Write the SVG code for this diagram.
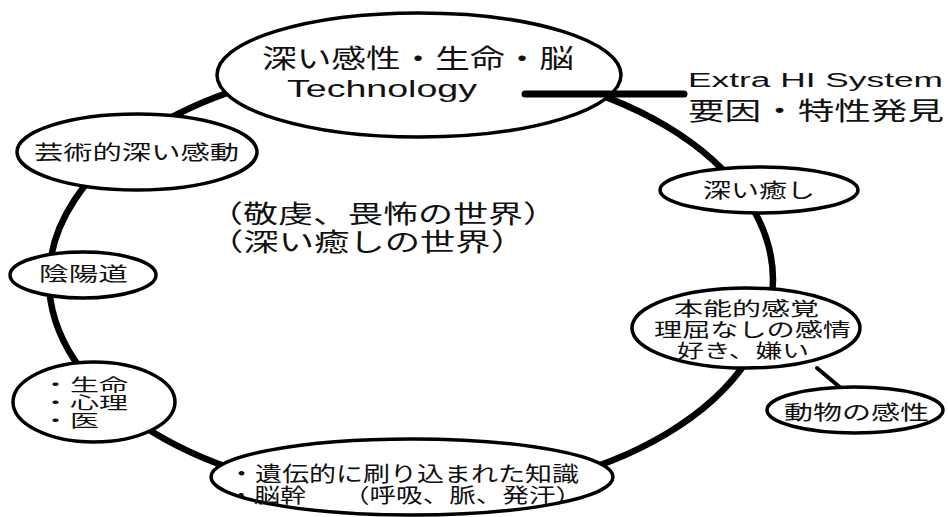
<svg xmlns="http://www.w3.org/2000/svg" width="948" height="517" viewBox="0 0 948 517">
<style>
.n{fill:#fff;stroke:#000;stroke-width:3.5}
.t{font-family:"Noto Sans CJK JP","Noto Sans",sans-serif;fill:#111}
.e{font-family:"Liberation Sans",Arial,sans-serif;fill:#111}
.c{fill:none;stroke:#000;stroke-linecap:round}
</style>
<rect width="948" height="517" fill="#fff"/>
<g id="connectors">
<ellipse class="c" cx="411" cy="280" rx="362" ry="217" stroke-width="6.5"/>
<line class="c" x1="817" y1="368" x2="842" y2="389" stroke-width="4"/>
</g>
<g id="center-label">
<text class="t" x="208" y="223" font-size="25" textLength="350" lengthAdjust="spacingAndGlyphs">（敬虔、畏怖の世界）</text>
<text class="t" x="208" y="251" font-size="25" textLength="318" lengthAdjust="spacingAndGlyphs">（深い癒しの世界）</text>
</g>
<g id="extra-hi">
<text class="e" x="688" y="87" font-size="20" textLength="255" lengthAdjust="spacingAndGlyphs">Extra HI System</text>
<text class="t" x="688" y="120" font-size="25" textLength="256" lengthAdjust="spacingAndGlyphs">要因・特性発見</text>
</g>
<g id="node-top">
<ellipse class="n" cx="419" cy="75" rx="202" ry="62" stroke-width="7"/>
<text class="t" x="262" y="68" font-size="26" textLength="312" lengthAdjust="spacingAndGlyphs">深い感性・生命・脳</text>
<text class="e" x="287" y="97" font-size="24" textLength="190" lengthAdjust="spacingAndGlyphs">Technology</text>
</g>
<g id="connector-extra">
<line class="c" x1="525" y1="94" x2="684" y2="94" stroke-width="7"/>
</g>
<g id="node-art">
<ellipse class="n" cx="137" cy="152" rx="120" ry="38"/>
<text class="t" x="34" y="160" font-size="20" textLength="205" lengthAdjust="spacingAndGlyphs">芸術的深い感動</text>
</g>
<g id="node-onmyodo">
<ellipse class="n" cx="83" cy="275" rx="73" ry="23"/>
<text class="t" x="39" y="281" font-size="19" textLength="89" lengthAdjust="spacingAndGlyphs">陰陽道</text>
</g>
<g id="node-life">
<ellipse class="n" cx="94" cy="402" rx="81" ry="40"/>
<text class="t" x="41" y="391" font-size="16.5" textLength="87" lengthAdjust="spacingAndGlyphs">・生命</text>
<text class="t" x="41" y="409" font-size="16.5" textLength="87" lengthAdjust="spacingAndGlyphs">・心理</text>
<text class="t" x="41" y="427" font-size="16.5" textLength="58" lengthAdjust="spacingAndGlyphs">・医</text>
</g>
<g id="node-bottom">
<ellipse class="n" cx="412" cy="477" rx="201" ry="38" stroke-width="4"/>
<text class="t" x="228" y="481" font-size="21" textLength="351" lengthAdjust="spacingAndGlyphs">・遺伝的に刷り込まれた知識</text>
<text class="t" x="228" y="503" font-size="20" textLength="78" lengthAdjust="spacingAndGlyphs">・脳幹</text>
<text class="t" x="343" y="503" font-size="20" textLength="239" lengthAdjust="spacingAndGlyphs">（呼吸、脈、発汗）</text>
</g>
<g id="node-healing">
<ellipse class="n" cx="759" cy="190" rx="99" ry="23"/>
<text class="t" x="703" y="198" font-size="20" textLength="112" lengthAdjust="spacingAndGlyphs">深い癒し</text>
</g>
<g id="node-instinct">
<ellipse class="n" cx="746" cy="328" rx="114" ry="40" stroke-width="4"/>
<text class="t" x="674" y="316" font-size="19" textLength="145" lengthAdjust="spacingAndGlyphs">本能的感覚</text>
<text class="t" x="654" y="337" font-size="19" textLength="197" lengthAdjust="spacingAndGlyphs">理屈なしの感情</text>
<text class="t" x="677" y="358" font-size="19" textLength="132" lengthAdjust="spacingAndGlyphs">好き、嫌い</text>
</g>
<g id="node-animal">
<ellipse class="n" cx="855" cy="410" rx="88" ry="23"/>
<text class="t" x="784" y="420" font-size="20" textLength="145" lengthAdjust="spacingAndGlyphs">動物の感性</text>
</g>
</svg>
